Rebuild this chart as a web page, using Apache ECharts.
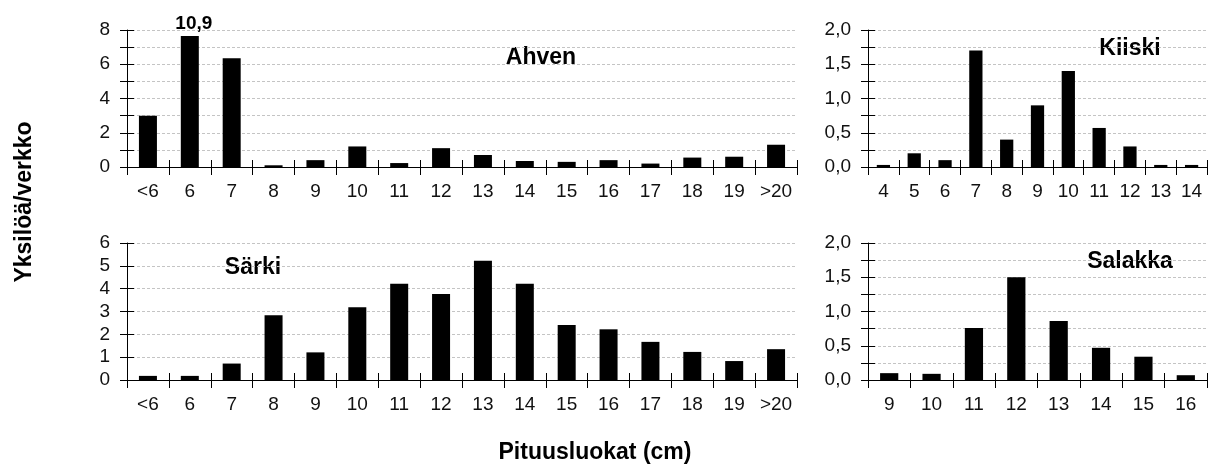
<!DOCTYPE html>
<html><head><meta charset="utf-8">
<script src="https://cdn.jsdelivr.net/npm/echarts@6/dist/echarts.min.js"></script>
<style>html,body{margin:0;padding:0;background:#fff}#c{width:1209px;height:464px}</style>
</head><body><div id="c"></div><script>
// ---- data ----
const wideCategories = ['<6','6','7','8','9','10','11','12','13','14','15','16','17','18','19','>20'];
const ahvenValues   = [3.0, 10.9, 6.35, 0.1, 0.4, 1.2, 0.23, 1.1, 0.7, 0.35, 0.3, 0.4, 0.2, 0.55, 0.6, 1.3];
const ahvenBarCap   = 7.65; // visible height of the broken (off-scale) bar
const kiiskiCategories = ['4','5','6','7','8','9','10','11','12','13','14'];
const kiiskiValues     = [0.03, 0.2, 0.1, 1.7, 0.4, 0.9, 1.4, 0.57, 0.3, 0.03, 0.03];
const sarkiValues      = [0.18, 0.18, 0.72, 2.84, 1.21, 3.19, 4.22, 3.77, 5.22, 4.22, 2.41, 2.22, 1.67, 1.23, 0.83, 1.35];
const salakkaCategories = ['9','10','11','12','13','14','15','16'];
const salakkaValues     = [0.1, 0.09, 0.76, 1.5, 0.86, 0.47, 0.34, 0.07];
const ahvenYTicks   = [0, 2, 4, 6, 8];
const sarkiYTicks   = [0, 1, 2, 3, 4, 5, 6];
const smallYTicks   = ['0,0', '0,5', '1,0', '1,5', '2,0'];
const panelTitles   = ['Ahven', 'Kiiski', 'Särki', 'Salakka'];
const yAxisTitle    = 'Yksilöä/verkko';
const xAxisTitle    = 'Pituusluokat (cm)';

// ---- layout / style ----
const TICK_FONT = "'Liberation Sans Narrow','Arial Narrow','Liberation Sans',Arial,sans-serif";
const BOLD_FONT = "'Liberation Sans',Arial,Helvetica,sans-serif";
const grids = [
  {left:127, top:30,  width:670, height:137},
  {left:868, top:30,  width:339, height:137},
  {left:127, top:243, width:670, height:137},
  {left:868, top:243, width:339, height:137}
];
const commaFmt = v => v.toFixed(1).replace('.', ',');
const panels = [
  {cats: wideCategories, data: ahvenValues.map(v => v > ahvenBarCap ? {value: ahvenBarCap, label: {show: true, formatter: commaFmt(v)}} : v),
   min: 0, max: 8, step: 1, labels: ahvenYTicks.map(String), labelStep: 2},
  {cats: kiiskiCategories, data: kiiskiValues, min: 0, max: 2, step: 0.25, labels: smallYTicks, labelStep: 0.5},
  {cats: wideCategories, data: sarkiValues, min: 0, max: 6, step: 1, labels: sarkiYTicks.map(String), labelStep: 1},
  {cats: salakkaCategories, data: salakkaValues, min: 0, max: 2, step: 0.25, labels: smallYTicks, labelStep: 0.5}
];

const xAxes = [], yAxes = [], series = [];
panels.forEach((p, i) => {
  xAxes.push({
    type: 'category', gridIndex: i, data: p.cats, position: 'bottom',
    axisLine: {show: true, onZero: false, lineStyle: {color: '#000', width: 1}},
    axisTick: {show: true, inside: false, length: 8, alignWithLabel: false, lineStyle: {color: '#000'}},
    axisLabel: {show: true, interval: 0, margin: 15, color: '#111', fontSize: 19, fontFamily: TICK_FONT},
    splitLine: {show: false}
  });
  xAxes.push({
    type: 'category', gridIndex: i, data: p.cats, position: 'bottom',
    axisLine: {show: false},
    axisTick: {show: true, inside: true, length: 7, lineStyle: {color: '#000'}},
    axisLabel: {show: false}, splitLine: {show: false}
  });
  yAxes.push({
    type: 'value', gridIndex: i, min: p.min, max: p.max, interval: p.step, position: 'left',
    axisLine: {show: true, onZero: false, lineStyle: {color: '#000', width: 1}},
    axisTick: {show: true, inside: false, length: 7, lineStyle: {color: '#000'}},
    axisLabel: {show: true, margin: 17, color: '#111', fontSize: 19, fontFamily: TICK_FONT,
      formatter: v => {
        const k = v / p.labelStep;
        if (Math.abs(k - Math.round(k)) > 1e-6) return '';
        return p.labels[Math.round(k)];
      }},
    splitLine: {show: true, lineStyle: {color: '#c4c4c4', type: [3, 2], width: 1}}
  });
  yAxes.push({
    type: 'value', gridIndex: i, min: p.min, max: p.max, interval: p.step, position: 'left',
    axisLine: {show: false},
    axisTick: {show: true, inside: true, length: 7, lineStyle: {color: '#000'}},
    axisLabel: {show: false}, splitLine: {show: false}
  });
  series.push({
    type: 'bar', xAxisIndex: 2 * i, yAxisIndex: 2 * i, data: p.data,
    barWidth: '43%', itemStyle: {color: '#000'},
    label: {show: false, position: 'top', distance: 3, offset: [4, 0],
      color: '#000', fontSize: 19, fontWeight: 'bold', fontFamily: BOLD_FONT},
    emphasis: {disabled: true}
  });
});

const titleStyle = (text, x, y, rot) => ({
  type: 'text', x: x, y: y, rotation: rot || 0, silent: true,
  style: {text: text, fill: '#000', fontSize: 23, fontWeight: 'bold', fontFamily: BOLD_FONT,
    align: 'center', verticalAlign: 'middle'}
});

const chart = echarts.init(document.getElementById('c'), null, {renderer: 'canvas'});
chart.setOption({
  animation: false,
  backgroundColor: '#fff',
  grid: grids.map(g => Object.assign({containLabel: false}, g)),
  xAxis: xAxes, yAxis: yAxes, series: series,
  graphic: [
    titleStyle(panelTitles[0], 541, 58),
    titleStyle(panelTitles[1], 1130, 49),
    titleStyle(panelTitles[2], 253, 268),
    titleStyle(panelTitles[3], 1130, 262),
    titleStyle(yAxisTitle, 25, 202, Math.PI / 2),
    titleStyle(xAxisTitle, 595, 453)
  ]
});
</script></body></html>
